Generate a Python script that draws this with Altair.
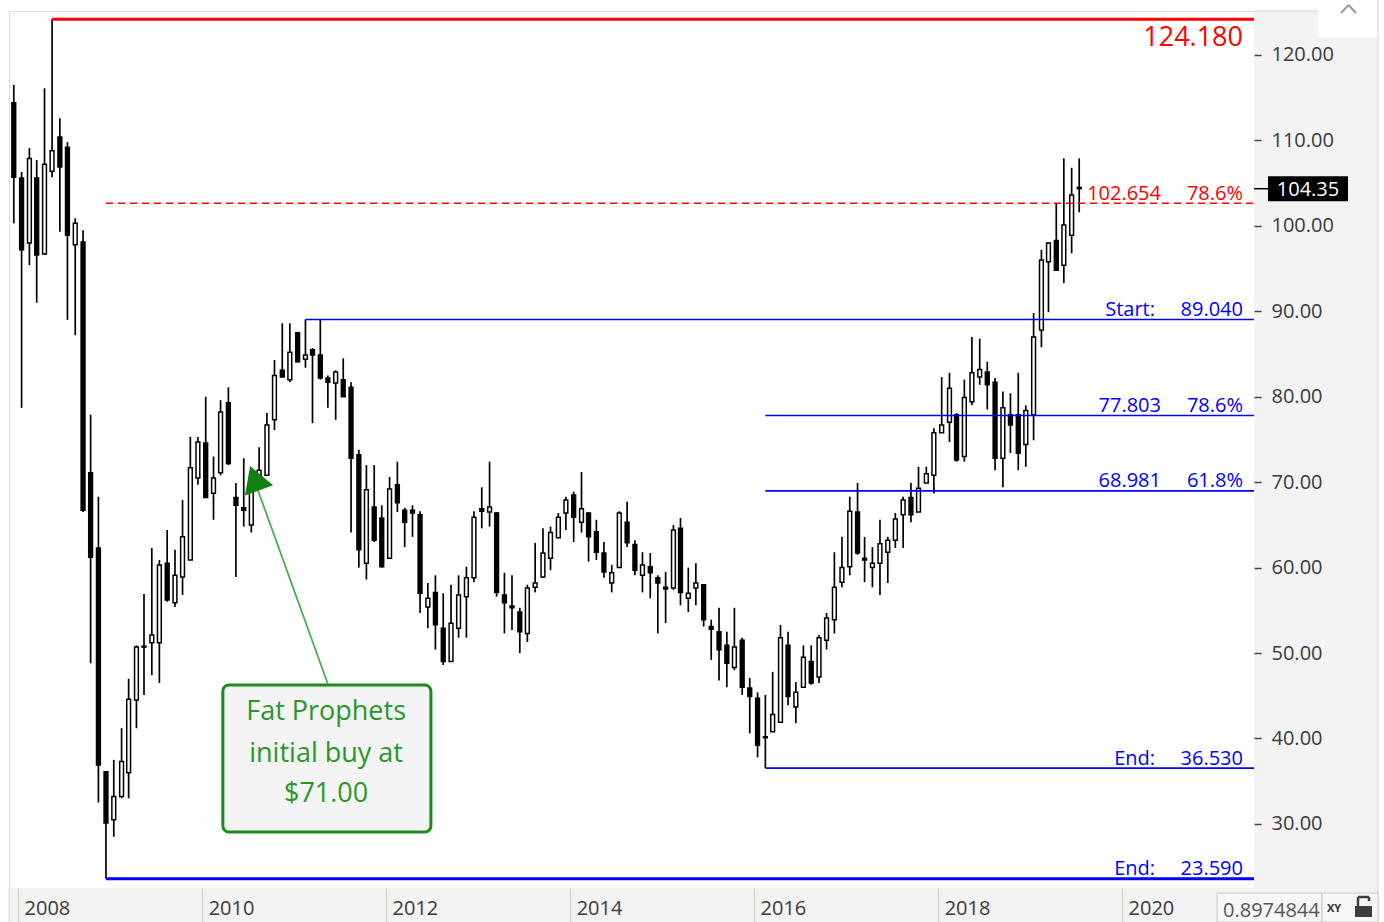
import altair as alt
import pandas as pd

# ---------------- data (monthly candles, Dec 2007 - Jul 2019) ----------------
N = 140
month_dates = (pd.date_range("2007-12-01", periods=N, freq="MS") + pd.Timedelta(days=14)).strftime("%Y-%m-%d").tolist()

opens = [114.4, 105.6, 98.0, 105.6, 96.7, 106.4, 110.4, 109.2, 97.8, 98.1,
         71.1, 62.3, 36.1, 30.5, 33.2, 36.0, 44.5, 50.8, 51.2, 51.2,
         60.5, 55.9, 58.9, 60.9, 70.5, 74.6, 68.7, 71.1, 79.3, 68.2,
         67.0, 65.0, 69.7, 70.8, 77.3, 83.1, 82.0, 87.5, 84.4, 85.5,
         84.9, 82.2, 81.6, 82.0, 81.1, 73.2, 60.5, 67.1, 65.8, 61.1,
         69.7, 66.7, 66.7, 66.2, 55.4, 57.1, 52.9, 49.0, 52.9, 56.6,
         58.8, 66.9, 66.5, 66.4, 56.8, 55.5, 54.8, 52.3, 57.7, 58.9,
         61.1, 63.5, 66.4, 68.5, 65.3, 66.4, 64.2, 61.7, 58.2, 60.0,
         65.3, 62.7, 59.1, 60.1, 58.8, 57.7, 57.6, 64.6, 56.4, 57.6,
         58.0, 53.1, 52.5, 50.9, 48.3, 51.5, 45.9, 44.7, 40.2, 40.8,
         41.9, 50.9, 43.7, 46.0, 49.0, 47.2, 51.5, 53.9, 58.3, 60.1,
         66.5, 61.1, 60.0, 60.5, 61.8, 63.2, 66.2, 68.2, 66.5, 69.9,
         70.8, 75.8, 77.0, 77.9, 73.0, 79.4, 82.3, 82.9, 81.7, 72.8,
         77.9, 77.9, 74.4, 77.9, 87.8, 95.8, 98.3, 95.4, 98.9, 104.5]

highs = [116.5, 106.3, 109.1, 107.7, 116.1, 124.18, 112.6, 109.8, 100.9, 99.5,
         77.9, 68.3, 36.1, 37.5, 41.2, 47.0, 50.9, 56.9, 62.3, 60.9,
         64.4, 62.1, 67.9, 75.3, 75.3, 80.0, 73.0, 79.6, 81.1, 69.9,
         72.8, 70.8, 74.1, 78.1, 84.3, 88.6, 88.6, 87.6, 89.04, 85.7,
         89.0, 82.5, 83.1, 84.5, 81.7, 73.8, 72.0, 72.0, 67.3, 70.6,
         72.4, 67.0, 67.3, 66.6, 58.2, 59.1, 57.0, 58.0, 59.1, 60.1,
         66.6, 69.4, 72.4, 66.5, 59.4, 59.1, 55.3, 58.0, 62.9, 64.6,
         64.8, 66.4, 68.3, 68.9, 71.2, 66.5, 65.6, 63.0, 60.3, 66.6,
         67.7, 63.2, 61.8, 61.7, 59.1, 59.5, 65.0, 65.8, 60.0, 60.5,
         58.0, 53.9, 55.3, 52.5, 55.3, 51.8, 47.1, 45.4, 45.1, 47.8,
         53.3, 52.5, 46.6, 50.9, 50.9, 52.1, 54.7, 61.8, 63.6, 68.3,
         69.9, 63.6, 62.4, 65.6, 63.6, 66.4, 68.3, 69.9, 71.8, 71.8,
         76.3, 82.3, 82.8, 78.1, 82.0, 87.0, 86.8, 84.1, 82.2, 80.6,
         80.4, 82.8, 79.0, 89.8, 97.2, 98.1, 102.7, 107.9, 106.8, 107.9]

lows = [100.3, 78.7, 95.4, 91.0, 96.6, 105.7, 99.3, 89.0, 87.2, 66.5,
        48.8, 32.5, 23.59, 28.5, 33.0, 33.0, 41.2, 45.1, 47.4, 46.5,
        56.0, 55.4, 56.8, 60.9, 69.7, 68.2, 65.6, 70.8, 72.0, 58.9,
        64.8, 64.1, 69.7, 70.8, 76.1, 82.3, 81.7, 84.0, 83.4, 76.9,
        82.0, 78.7, 77.3, 80.0, 64.1, 60.0, 58.6, 63.0, 60.0, 61.1,
        66.5, 62.4, 63.6, 54.7, 52.9, 50.4, 48.6, 49.0, 51.8, 51.8,
        58.3, 64.6, 64.8, 56.6, 52.3, 52.7, 50.0, 51.3, 57.1, 58.8,
        59.7, 63.5, 64.4, 63.0, 64.1, 60.7, 60.9, 58.8, 57.1, 60.0,
        62.4, 59.1, 57.1, 56.4, 52.3, 53.5, 57.4, 55.6, 54.8, 55.6,
        53.1, 49.2, 46.8, 46.0, 48.0, 45.1, 40.6, 37.8, 36.53, 40.8,
        41.9, 43.9, 41.8, 46.0, 46.3, 46.5, 50.4, 52.3, 57.7, 59.1,
        61.5, 58.3, 57.7, 56.8, 58.2, 62.3, 62.3, 65.3, 66.5, 69.9,
        68.7, 75.8, 74.7, 72.4, 72.4, 79.0, 81.4, 78.5, 71.4, 69.4,
        73.4, 71.4, 71.8, 74.9, 85.8, 89.9, 94.8, 93.3, 96.8, 101.6]

closes = [105.7, 97.2, 107.9, 96.6, 107.2, 108.8, 106.9, 98.9, 100.3, 66.7,
          61.2, 36.9, 30.1, 33.2, 37.3, 44.6, 50.7, 50.7, 52.1, 60.3,
          56.2, 59.1, 63.6, 71.7, 74.7, 68.2, 70.5, 78.2, 72.2, 67.3,
          66.7, 69.4, 71.4, 76.7, 82.5, 82.3, 85.2, 84.1, 84.9, 84.9,
          82.2, 81.7, 82.9, 80.0, 72.8, 62.1, 69.1, 63.2, 60.1, 69.2,
          67.6, 65.3, 66.4, 57.0, 56.4, 53.3, 49.0, 53.5, 56.8, 58.8,
          65.9, 66.6, 67.1, 57.1, 55.9, 55.3, 52.5, 57.6, 58.2, 61.7,
          64.1, 65.9, 67.9, 65.9, 66.9, 63.6, 61.8, 59.5, 59.4, 66.4,
          62.9, 59.7, 60.3, 59.4, 58.2, 57.5, 64.4, 57.1, 57.0, 58.2,
          53.9, 52.8, 50.4, 48.8, 50.7, 46.0, 44.9, 39.2, 40.1, 42.8,
          51.8, 44.9, 45.4, 49.5, 46.5, 51.8, 54.1, 57.7, 60.0, 66.6,
          61.7, 60.9, 60.5, 62.8, 63.2, 65.7, 67.9, 66.2, 69.3, 71.0,
          75.8, 76.7, 81.0, 72.6, 79.9, 82.8, 83.2, 81.4, 72.8, 78.7,
          76.7, 73.4, 78.4, 87.0, 96.0, 98.0, 94.8, 100.1, 103.6, 104.35]

# Fibonacci / level lines
level_values = [124.18, 102.654, 89.04, 77.803, 68.981, 36.53, 23.59]
level_start_idx = [5, 12, 38, 98, 98, 98, 12]
level_kind = ["red_heavy", "red_dash", "blue", "blue", "blue", "blue", "blue_heavy"]
level_num_labels = ["", "102.654", "", "77.803", "68.981", "", ""]
level_word_labels = ["", "", "Start:", "", "", "End:", "End:"]
level_right_labels = ["", "78.6%", "89.040", "78.6%", "61.8%", "36.530", "23.590"]
peak_label = "124.180"
last_price = 104.35
bottom_readout = "0.8974844"
year_ticks = [2008, 2010, 2012, 2014, 2016, 2018, 2020]
price_ticks = [30, 40, 50, 60, 70, 80, 90, 100, 110, 120]

annotation_lines = ["Fat Prophets", "initial buy at", "$71.00"]

# ---------------- styles ----------------
RED = "#ff0000"
BLUE = "#0000ff"
GREEN_BORDER = "#1b8b1b"
GREEN_TEXT = "#2a962a"
FONT = "Open Sans"
kind_style = {
    "red_heavy": (RED, 3.0, "solid"),
    "red_dash": (RED, 1.5, "dash"),
    "blue": (BLUE, 1.6, "solid"),
    "blue_heavy": (BLUE, 3.0, "solid"),
}

X_END = "2021-06-08"
W, H = 1245, 877

candles = pd.DataFrame({"date": month_dates, "open": opens, "high": highs,
                        "low": lows, "close": closes})
candles["dir"] = ["up" if c >= o else "down" for o, c in zip(opens, closes)]

levels = pd.DataFrame({
    "start": [month_dates[i] for i in level_start_idx],
    "end": X_END,
    "value": level_values,
    "num": level_num_labels,
    "word": level_word_labels,
    "right": level_right_labels,
    "color": [kind_style[k][0] for k in level_kind],
    "sw": [kind_style[k][1] for k in level_kind],
    "style": [kind_style[k][2] for k in level_kind],
})

x_scale = alt.Scale(type="utc", nice=False, padding=0,
                    domain=[alt.DateTime(year=2007, month=11, date=26, utc=True),
                            alt.DateTime(year=2021, month=6, date=8, utc=True)])
y_scale = alt.Scale(domain=[22.50, 125.15], nice=False, zero=False, padding=0)

x_axis = alt.Axis(values=[alt.DateTime(year=y, month=1, date=1, utc=True) for y in year_ticks],
                  format="%Y", formatType="utc", tickSize=34, tickColor="#cfcfcf", tickWidth=1,
                  labelAlign="left", labelBaseline="middle", labelPadding=-14, labelOffset=6,
                  labelFontSize=20, labelFont=FONT, labelColor="#3a3a3a", domain=False, grid=False,
                  title=None, zindex=1, labelFlush=False, labelOverlap=False, labelBound=False)
y_axis = alt.Axis(orient="right", values=price_ticks, format=".2f", tickSize=7,
                  tickColor="#444444", tickWidth=1.5, labelPadding=10, labelFontSize=20, labelFont=FONT,
                  labelColor="#3a3a3a", labelBaseline="middle", domain=False, grid=False, title=None,
                  zindex=1, labelFlush=False, labelOverlap=False)


def X(field):
    return alt.X(field, scale=x_scale, axis=x_axis)


def Y(field):
    return alt.Y(field, scale=y_scale, axis=y_axis)


one = pd.DataFrame({"k": [0]})


def box(x1, x2, y1, y2, fill, stroke=None):
    kw = {"fill": fill}
    if stroke:
        kw.update(stroke=stroke, strokeWidth=1)
    return alt.Chart(one).mark_rect(**kw).encode(
        x=alt.value(x1), x2=alt.value(x2), y=alt.value(y1), y2=alt.value(y2))


def seg(x1, y1, x2, y2, color, width=1):
    return alt.Chart(one).mark_rule(color=color, strokeWidth=width).encode(
        x=alt.value(x1), x2=alt.value(x2), y=alt.value(y1), y2=alt.value(y2))


panels = [
    box(W, W + 124, 0, H + 34, "#f3f3f3"),
    box(0, W, H, H + 34, "#f3f3f3"),
    box(W + 64, W + 124, -11, 26, "#ffffff"),
    seg(W, 0, W + 64, 0, "#d4d4d4"),
    seg(W + 124, -11, W + 124, H + 34, "#d0d0d0"),
    seg(0, H, 0, H + 34, "#d4d4d4"),
    seg(W + 87, 2, W + 94.5, -6, "#9a9a9a", 2),
    seg(W + 94.5, -6, W + 102, 2, "#9a9a9a", 2),
]

base = alt.Chart(candles)
wicks = base.mark_rule(color="black", strokeWidth=1.7).encode(
    x=X("date:T"), y=Y("low:Q"), y2="high:Q")
bodies = base.mark_bar(size=3.8, stroke="black", strokeWidth=1.5).encode(
    x=X("date:T"), y=Y("open:Q"), y2="close:Q",
    fill=alt.Fill("dir:N", scale=alt.Scale(domain=["up", "down"], range=["white", "black"]), legend=None),
)

lv = alt.Chart(levels)
level_rules = lv.mark_rule().encode(
    x=X("start:T"), x2="end:T", y=Y("value:Q"),
    color=alt.Color("color:N", scale=None),
    strokeWidth=alt.StrokeWidth("sw:Q", scale=None),
    strokeDash=alt.StrokeDash("style:N", scale=alt.Scale(domain=["solid", "dash"], range=[[1, 0], [7, 5]]),
                              legend=None),
)


def level_text(field, dx):
    return lv.mark_text(align="right", baseline="alphabetic", dx=dx, dy=-3.5, fontSize=20,
                        font=FONT).encode(
        x=X("end:T"), y=Y("value:Q"), text=f"{field}:N", color=alt.Color("color:N", scale=None))


right_labels = level_text("right", -11)
num_labels = level_text("num", -93)
word_labels = level_text("word", -99)

peak = alt.Chart(pd.DataFrame({"end": [X_END], "value": [level_values[0]], "t": [peak_label]})).mark_text(
    align="right", baseline="alphabetic", dx=-11, dy=27, fontSize=27, font=FONT, color=RED).encode(
    x=X("end:T"), y=Y("value:Q"), text="t:N")

# annotation (positions in data coordinates)
ann_box = alt.Chart(pd.DataFrame({"x1": ["2010-03-24"], "x2": ["2012-06-27"], "y1": [46.26], "y2": [29.06]})).mark_rect(
    fill="#f4f4f4", stroke=GREEN_BORDER, strokeWidth=3, cornerRadius=6).encode(
    x=X("x1:T"), x2="x2:T", y=Y("y1:Q"), y2="y2:Q")
ann_shaft = alt.Chart(pd.DataFrame({"d": ["2011-05-15", "2010-08-10"], "v": [46.38, 69.09]})).mark_line(
    color="#4cad4c", strokeWidth=1.8).encode(x=X("d:T"), y=Y("v:Q"))
ann_head = alt.Chart(pd.DataFrame({"d": ["2010-07-28"], "v": [70.47]})).mark_point(
    shape="triangle-up", filled=True, size=900, angle=340, color="#137f13", opacity=1).encode(
    x=X("d:T"), y=Y("v:Q"))
ann_text = alt.Chart(pd.DataFrame({"d": ["2011-05-08"] * 3, "v": [42.17, 37.29, 32.61],
                                   "t": annotation_lines})).mark_text(
    align="center", baseline="alphabetic", fontSize=27, font=FONT, color=GREEN_TEXT).encode(
    x=X("d:T"), y=Y("v:Q"), text="t:N")

# last price tag
lp = alt.Chart(pd.DataFrame({"v": [last_price], "t": [f"{last_price:.2f}"]}))
tag_tick = lp.mark_rule(color="black", strokeWidth=1.5).encode(
    x=alt.value(W), x2=alt.value(W + 14), y=Y("v:Q"))
tag_box = lp.mark_point(shape="M-1,-0.3125L1,-0.3125L1,0.3125L-1,0.3125Z", filled=True, size=6400,
                        color="black", opacity=1, strokeWidth=0).encode(
    x=alt.value(W + 54), y=Y("v:Q"))
tag_text = lp.mark_text(align="center", baseline="middle", fontSize=20, font=FONT, color="white", dy=1).encode(
    x=alt.value(W + 54), y=Y("v:Q"), text="t:N")

# bottom-right readout widget
widget = [
    box(W - 37, W + 68, H + 5, H + 34, "#f7f7f7", "#c9c9c9"),
    alt.Chart(pd.DataFrame({"t": [bottom_readout]})).mark_text(
        align="left", baseline="alphabetic", fontSize=20, font=FONT, color="#555555").encode(
        x=alt.value(W - 31), y=alt.value(H + 29), text="t:N"),
    box(W + 68, W + 124, H + 5, H + 34, "#f7f7f7", "#c9c9c9"),
    alt.Chart(pd.DataFrame({"t": ["XY"]})).mark_text(
        align="left", baseline="alphabetic", fontSize=11, font=FONT, fontWeight="bold", color="#333333").encode(
        x=alt.value(W + 73), y=alt.value(H + 24), text="t:N"),
    box(W + 101, W + 118, H + 18, H + 29, "#3d3d3d"),
    seg(W + 104, H + 9, W + 115, H + 9, "#3d3d3d", 2.5),
    seg(W + 104, H + 9, W + 104, H + 18, "#3d3d3d", 2.5),
    seg(W + 115, H + 9, W + 115, H + 13, "#3d3d3d", 2.5),
]

chart = alt.layer(
    *panels, wicks, bodies, level_rules, right_labels, num_labels, word_labels, peak,
    ann_box, ann_shaft, ann_head, ann_text, tag_tick, tag_box, tag_text, *widget
).properties(
    width=W, height=H,
    padding={"left": 9, "top": 11, "right": 130, "bottom": 34},
    autosize=alt.AutoSizeParams(type="none"),
).configure_view(stroke="#d4d4d4", strokeWidth=1, fill="white").configure(
    background="white", font=FONT)

chart.save("out.html", embed_options={"renderer": "svg", "actions": False})
